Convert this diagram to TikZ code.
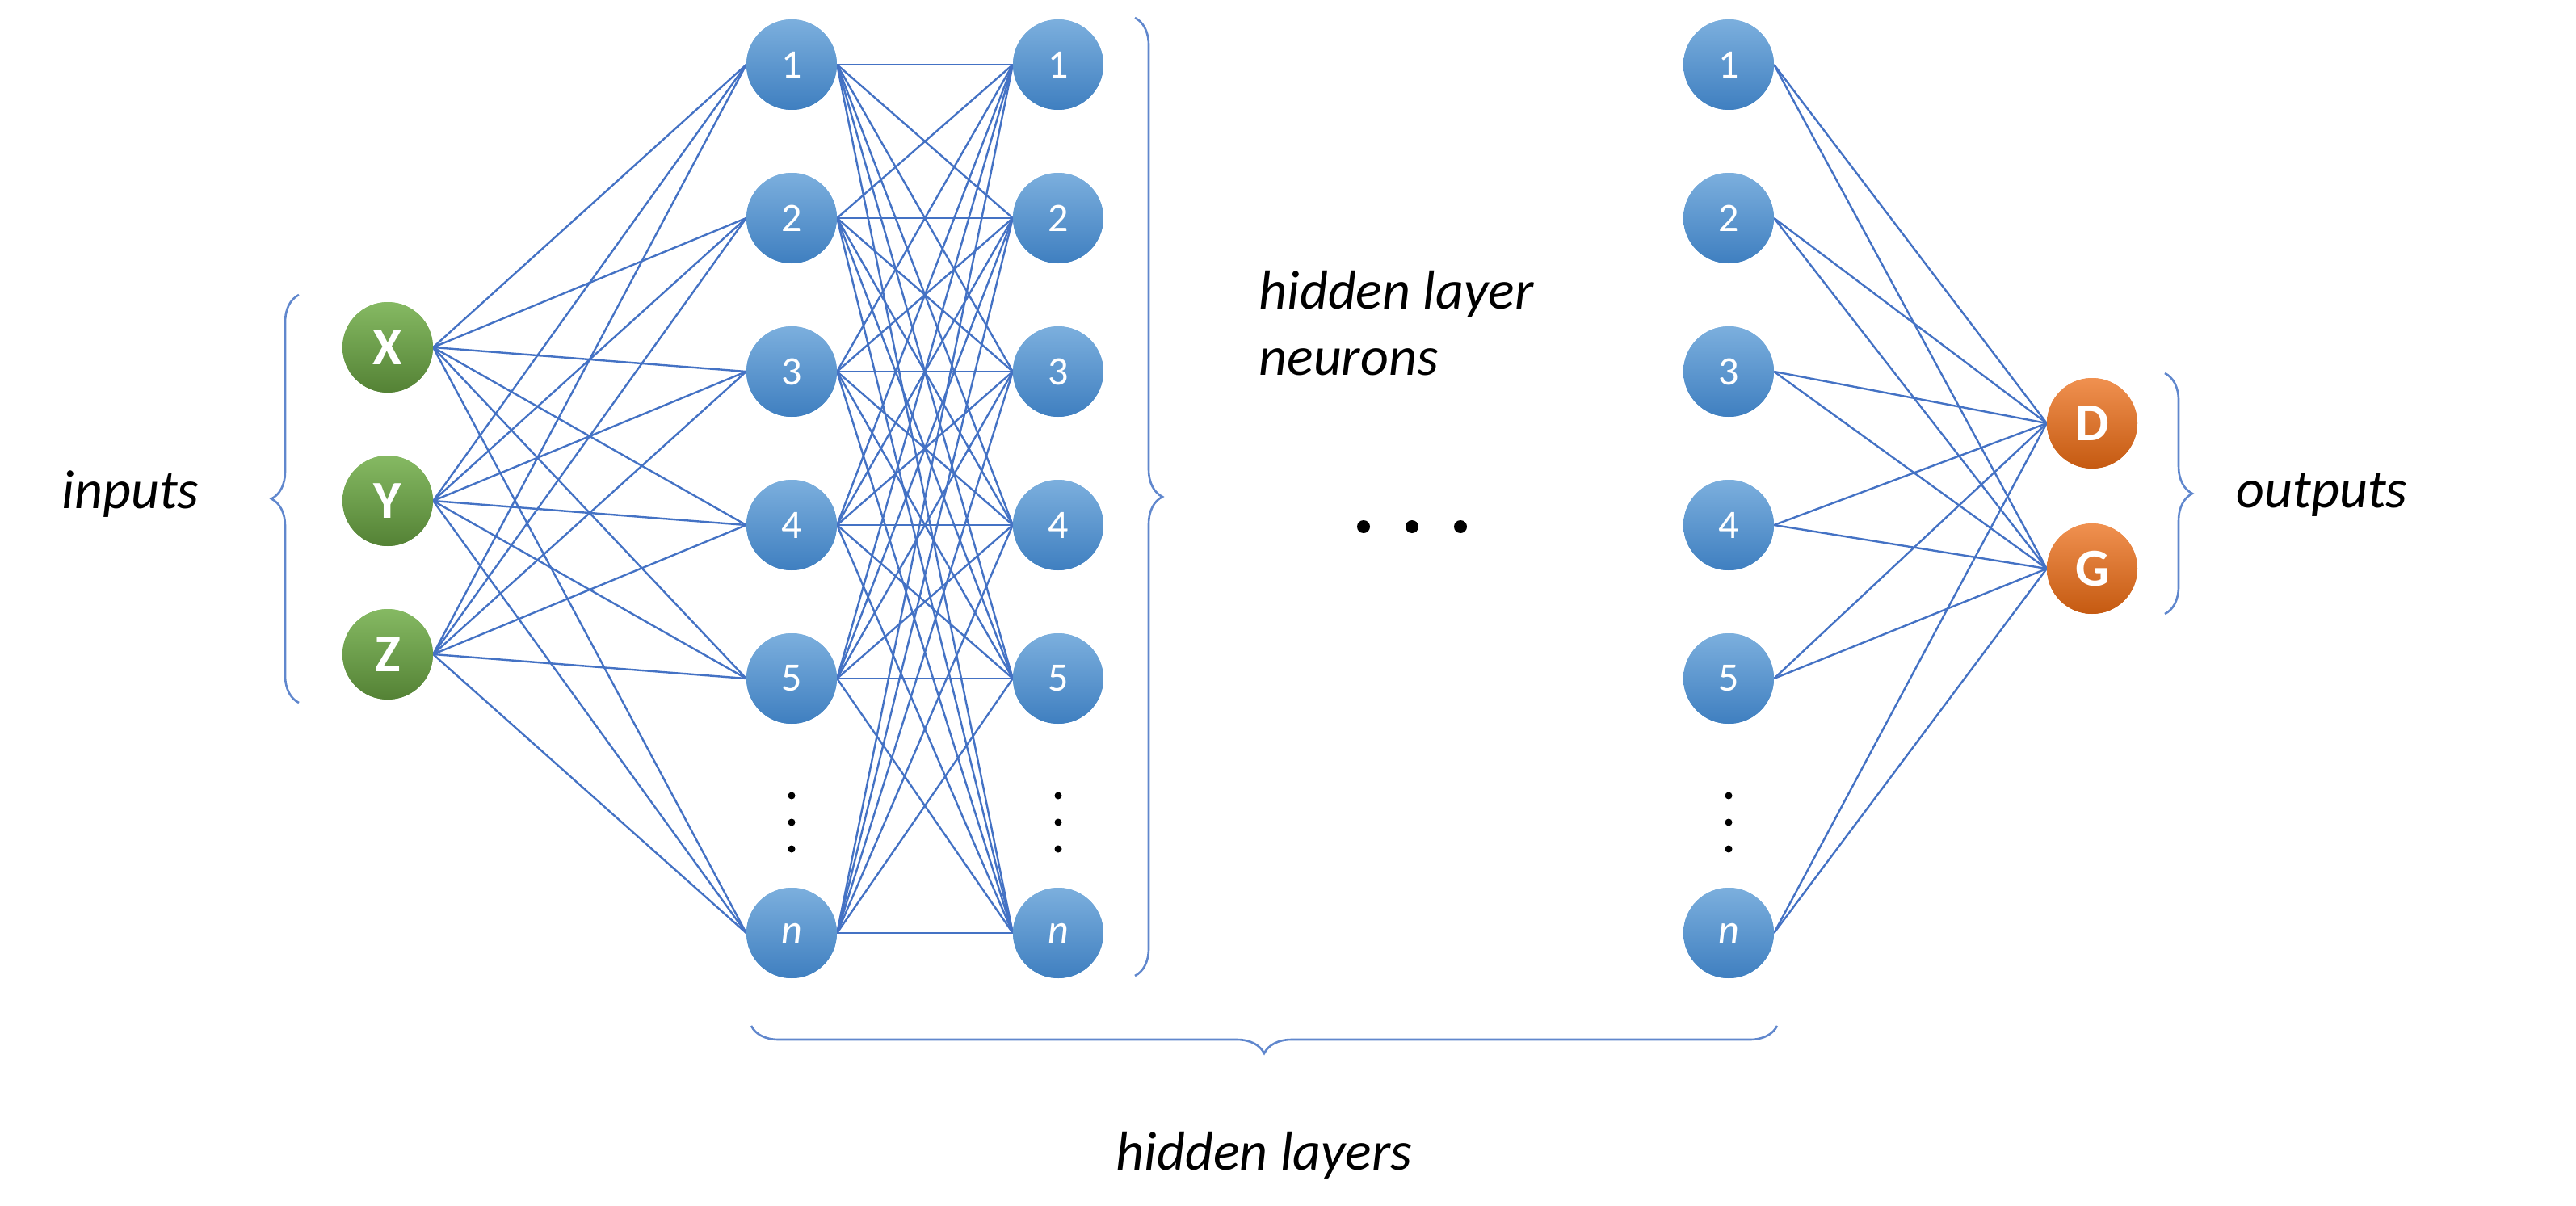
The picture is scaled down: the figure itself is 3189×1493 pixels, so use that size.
\documentclass[tikz,border=0pt]{standalone}
\usepackage{fontspec}
\setmainfont{Carlito}
\usetikzlibrary{decorations.pathreplacing}
\definecolor{nblue}{HTML}{5B9BD5}
\definecolor{dblue}{HTML}{3F7FC0}
\definecolor{lblue}{HTML}{4472C4}
\definecolor{ngreen}{HTML}{70AD47}
\definecolor{dgreen}{HTML}{548235}
\definecolor{norange}{HTML}{ED7D31}
\definecolor{dorange}{HTML}{C55A11}
\begin{document}
\begin{tikzpicture}[x=1pt,y=-1pt,
  neu/.style={circle,minimum size=112pt,inner sep=0pt,top color=nblue!80!white,bottom color=dblue,draw=none,text=white,font=\fontsize{50}{56}\selectfont},
  inp/.style={neu,top color=ngreen!85!white,bottom color=dgreen,font=\bfseries\fontsize{66}{72}\selectfont},
  outn/.style={neu,top color=norange!85!white,bottom color=dorange,font=\bfseries\fontsize{66}{72}\selectfont},
  conn/.style={lblue,line width=2.4pt},
  br/.style={decorate,decoration={brace,amplitude=34pt},lblue!85!white,line width=2.6pt},
  lab/.style={font=\itshape\fontsize{68}{82}\selectfont},
  dot/.style={circle,fill=black,inner sep=0pt,minimum size=9pt},
  bdot/.style={circle,fill=black,inner sep=0pt,minimum size=16pt}]
\useasboundingbox (0,0) rectangle (3189,1493);
\node[inp] (X) at (480,430) {X};
\node[inp] (Y) at (480,620) {Y};
\node[inp] (Z) at (480,810) {Z};
\foreach \L/\x in {a/980,b/1310,c/2140}{
  \foreach \i/\y in {1/80,2/270,3/460,4/650,5/840}{
    \node[neu] (\L\i) at (\x,\y) {\i};
  }
  \node[neu] (\L n) at (\x,1155) {\textit{n}};
  \node[dot] (\L d1) at (\x,985) {};
  \node[dot] (\L d2) at (\x,1018) {};
  \node[dot] (\L d3) at (\x,1051) {};
}
\node[outn] (D) at (2590,524) {D};
\node[outn] (G) at (2590,704) {G};
\foreach \s in {X,Y,Z}{
  \foreach \t in {1,2,3,4,5,n}{
    \draw[conn] (\s.east) -- (a\t.west);
  }
}
\foreach \s in {1,2,3,4,5,n}{
  \foreach \t in {1,2,3,4,5,n}{
    \draw[conn] (a\s.east) -- (b\t.west);
  }
  \draw[conn] (c\s.east) -- (D.west);
  \draw[conn] (c\s.east) -- (G.west);
}
\foreach \s in {X,Y,Z}{\node[inp] at (\s) {\s};}
\foreach \L in {a,b,c}{
  \foreach \i in {1,2,3,4,5}{\node[neu] at (\L\i) {\i};}
  \node[neu] at (\L n) {\textit{n}};
}
\node[outn] at (D) {D};
\node[outn] at (G) {G};
\node[bdot] (e1) at (1688,652) {};
\node[bdot] (e2) at (1748,652) {};
\node[bdot] (e3) at (1808,652) {};
\coordinate (ib1) at (370,870);
\coordinate (ib2) at (370,365);
\draw[br] (ib1) -- (ib2);
\node[lab,anchor=east] (inputs) at (250,612) {inputs};
\coordinate (hb1) at (1405,22);
\coordinate (hb2) at (1405,1208);
\draw[br] (hb1) -- (hb2);
\node[lab,anchor=west,align=left] (hln) at (1555,400) {hidden layer\\neurons};
\coordinate (bb1) at (2200,1270);
\coordinate (bb2) at (930,1270);
\draw[br] (bb1) -- (bb2);
\node[lab] (hl) at (1565,1430) {hidden layers};
\coordinate (ob1) at (2680,462);
\coordinate (ob2) at (2680,760);
\draw[br] (ob1) -- (ob2);
\node[lab,anchor=west] (outs) at (2765,612) {outputs};
\end{tikzpicture}
\end{document}
